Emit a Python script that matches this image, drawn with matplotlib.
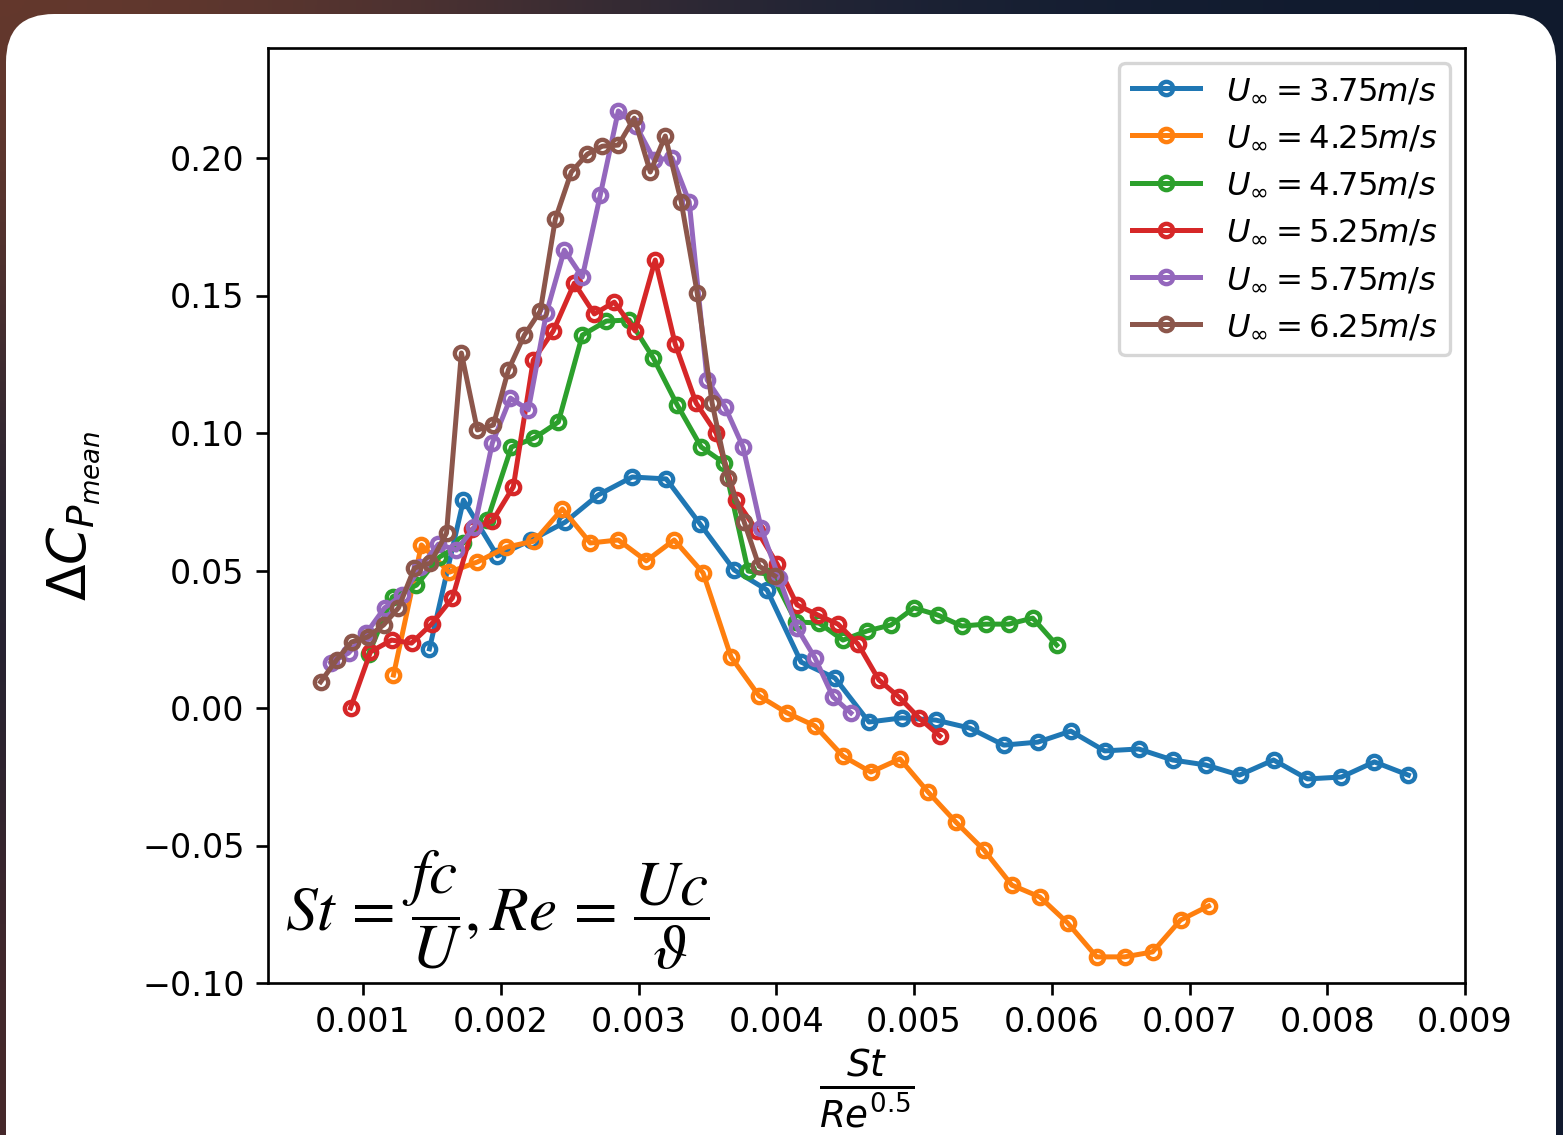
import numpy as np
import matplotlib
matplotlib.use("Agg")
import matplotlib.pyplot as plt
from matplotlib.patches import FancyBboxPatch
from matplotlib.colors import to_rgb

DPI = 240
W, H = 1563, 1135

# St / Re^0.5 and mean pressure coefficient change, one block per free-stream speed
speeds = ["3.75", "4.25", "4.75", "5.25", "5.75", "6.25"]

x_375 = [0.001482, 0.001729, 0.001975, 0.002222, 0.002468, 0.002708, 0.002954, 0.003201,
         0.003447, 0.003694, 0.003933, 0.004180, 0.004426, 0.004673, 0.004912, 0.005159,
         0.005405, 0.005652, 0.005899, 0.006138, 0.006384, 0.006631, 0.006877, 0.007117,
         0.007363, 0.007610, 0.007856, 0.008103, 0.008342, 0.008589]
y_375 = [0.0215, 0.0756, 0.0553, 0.0611, 0.0676, 0.0775, 0.0840, 0.0833, 0.0669, 0.0502,
         0.0429, 0.0167, 0.0109, -0.0051, -0.0036, -0.0044, -0.0073, -0.0135, -0.0124, -0.0084,
         -0.0156, -0.0149, -0.0189, -0.0207, -0.0244, -0.0189, -0.0258, -0.0251, -0.0196, -0.0244]

x_425 = [0.001221, 0.001424, 0.001627, 0.001830, 0.002041, 0.002244, 0.002447, 0.002650,
         0.002853, 0.003056, 0.003259, 0.003469, 0.003672, 0.003875, 0.004078, 0.004281,
         0.004484, 0.004687, 0.004898, 0.005101, 0.005304, 0.005507, 0.005710, 0.005913,
         0.006116, 0.006326, 0.006529, 0.006732, 0.006935, 0.007138]
y_425 = [0.0120, 0.0593, 0.0494, 0.0531, 0.0585, 0.0607, 0.0724, 0.0600, 0.0611, 0.0535,
         0.0611, 0.0491, 0.0185, 0.0044, -0.0018, -0.0065, -0.0175, -0.0233, -0.0185, -0.0305,
         -0.0415, -0.0516, -0.0644, -0.0687, -0.0782, -0.0905, -0.0905, -0.0887, -0.0771, -0.0720]

x_475 = [0.001040, 0.001214, 0.001388, 0.001555, 0.001729, 0.001903, 0.002077, 0.002244,
         0.002418, 0.002592, 0.002766, 0.002933, 0.003107, 0.003281, 0.003455, 0.003621,
         0.003796, 0.003970, 0.004144, 0.004310, 0.004484, 0.004658, 0.004833, 0.004999,
         0.005173, 0.005347, 0.005521, 0.005688, 0.005862, 0.006036]
y_475 = [0.0196, 0.0404, 0.0447, 0.0549, 0.0600, 0.0684, 0.0949, 0.0982, 0.1040, 0.1356,
         0.1407, 0.1411, 0.1273, 0.1102, 0.0949, 0.0891, 0.0498, 0.0484, 0.0313, 0.0309,
         0.0247, 0.0280, 0.0302, 0.0364, 0.0338, 0.0298, 0.0305, 0.0305, 0.0327, 0.0229]

x_525 = [0.000909, 0.001054, 0.001207, 0.001352, 0.001497, 0.001649, 0.001794, 0.001939,
         0.002091, 0.002236, 0.002381, 0.002534, 0.002679, 0.002824, 0.002976, 0.003121,
         0.003266, 0.003418, 0.003563, 0.003708, 0.003861, 0.004006, 0.004151, 0.004303,
         0.004448, 0.004593, 0.004745, 0.004891, 0.005036, 0.005188]
y_525 = [0.0000, 0.0204, 0.0247, 0.0236, 0.0305, 0.0400, 0.0651, 0.0680, 0.0804, 0.1265,
         0.1371, 0.1545, 0.1433, 0.1476, 0.1371, 0.1629, 0.1324, 0.1109, 0.1000, 0.0756,
         0.0644, 0.0524, 0.0375, 0.0338, 0.0305, 0.0233, 0.0102, 0.0040, -0.0036, -0.0102]

x_575 = [0.000764, 0.000895, 0.001025, 0.001156, 0.001286, 0.001417, 0.001547, 0.001678,
         0.001809, 0.001939, 0.002070, 0.002200, 0.002331, 0.002461, 0.002592, 0.002722,
         0.002853, 0.002983, 0.003114, 0.003244, 0.003368, 0.003498, 0.003629, 0.003759,
         0.003890, 0.004020, 0.004151, 0.004281, 0.004412, 0.004542]
y_575 = [0.0164, 0.0200, 0.0273, 0.0364, 0.0411, 0.0513, 0.0596, 0.0574, 0.0658, 0.0964,
         0.1127, 0.1084, 0.1436, 0.1665, 0.1567, 0.1865, 0.2171, 0.2116, 0.1993, 0.2000,
         0.1840, 0.1193, 0.1094, 0.0949, 0.0654, 0.0473, 0.0291, 0.0182, 0.0040, -0.0018]

x_625 = [0.000692, 0.000808, 0.000917, 0.001033, 0.001149, 0.001257, 0.001373, 0.001489,
         0.001606, 0.001714, 0.001830, 0.001946, 0.002055, 0.002171, 0.002287, 0.002396,
         0.002512, 0.002628, 0.002737, 0.002853, 0.002969, 0.003085, 0.003194, 0.003310,
         0.003426, 0.003534, 0.003650, 0.003767, 0.003875, 0.003991]
y_625 = [0.0095, 0.0175, 0.0240, 0.0258, 0.0302, 0.0364, 0.0509, 0.0527, 0.0636, 0.1291,
         0.1011, 0.1029, 0.1229, 0.1356, 0.1444, 0.1778, 0.1949, 0.2014, 0.2043, 0.2047,
         0.2145, 0.1949, 0.2080, 0.1840, 0.1509, 0.1109, 0.0836, 0.0676, 0.0516, 0.0480]

x_list = [x_375, x_425, x_475, x_525, x_575, x_625]
y_list = [y_375, y_425, y_475, y_525, y_575, y_625]

fig = plt.figure(figsize=(W / DPI, H / DPI), dpi=DPI)

# dark backdrop with a warm corner, then the white rounded card on top
corners = np.array([[to_rgb("#6a3a2c"), to_rgb("#1b2439"), to_rgb("#101a2d")],
                    [to_rgb("#101d35"), to_rgb("#141d33"), to_rgb("#111a2e")],
                    [to_rgb("#4a2a2a"), to_rgb("#151c30"), to_rgb("#111a2e")]])
bg = fig.add_axes([0, 0, 1, 1], zorder=-10)
bg.imshow(corners, extent=[0, 1, 0, 1], aspect="auto", interpolation="bicubic")
bg.set_axis_off()

card = FancyBboxPatch((6 / DPI, -0.4), (1556 - 6) / DPI, (H - 14) / DPI + 0.4,
                      boxstyle="round,pad=0,rounding_size=%f" % (48 / DPI),
                      transform=fig.dpi_scale_trans, facecolor="white",
                      edgecolor="none", zorder=-5)
fig.patches.append(card)

ax = fig.add_axes([268 / W, 1 - 983 / H, (1465 - 268) / W, (983 - 48) / H])

for x, y, s in zip(x_list, y_list, speeds):
    ax.plot(x, y, marker="o", ms=4, mfc="none", mew=1.3, lw=1.5,
            label=r"$U_{\infty}=%sm/s$" % s)

ax.set_xlim(0.00031, 0.009)
ax.set_ylim(-0.10, 0.24)
ax.set_yticks([-0.10, -0.05, 0.00, 0.05, 0.10, 0.15, 0.20])
ax.set_xticks([0.001, 0.002, 0.003, 0.004, 0.005, 0.006, 0.007, 0.008, 0.009])
ax.set_xticklabels(["0.001", "0.002", "0.003", "0.004", "0.005", "0.006", "0.007", "0.008", "0.009"])
ax.set_yticklabels(["\u22120.10", "\u22120.05", "0.00", "0.05", "0.10", "0.15", "0.20"])

ax.set_xlabel(r"$\frac{St}{Re^{0.5}}$", fontsize=16, labelpad=2)
ax.set_ylabel(r"$\Delta C_{P_{mean}}$", fontsize=16, labelpad=12)
ax.legend(loc="upper right", fontsize=9.7, borderaxespad=0.45, handlelength=2.1)

fig.text(285 / W, 1 - 910 / H,
         r"$St\,=\,\dfrac{fc}{U},Re\,=\,\dfrac{Uc}{\vartheta}$",
         fontsize=19, math_fontfamily="stix", ha="left", va="center")

fig.savefig("out.png", dpi=DPI)
